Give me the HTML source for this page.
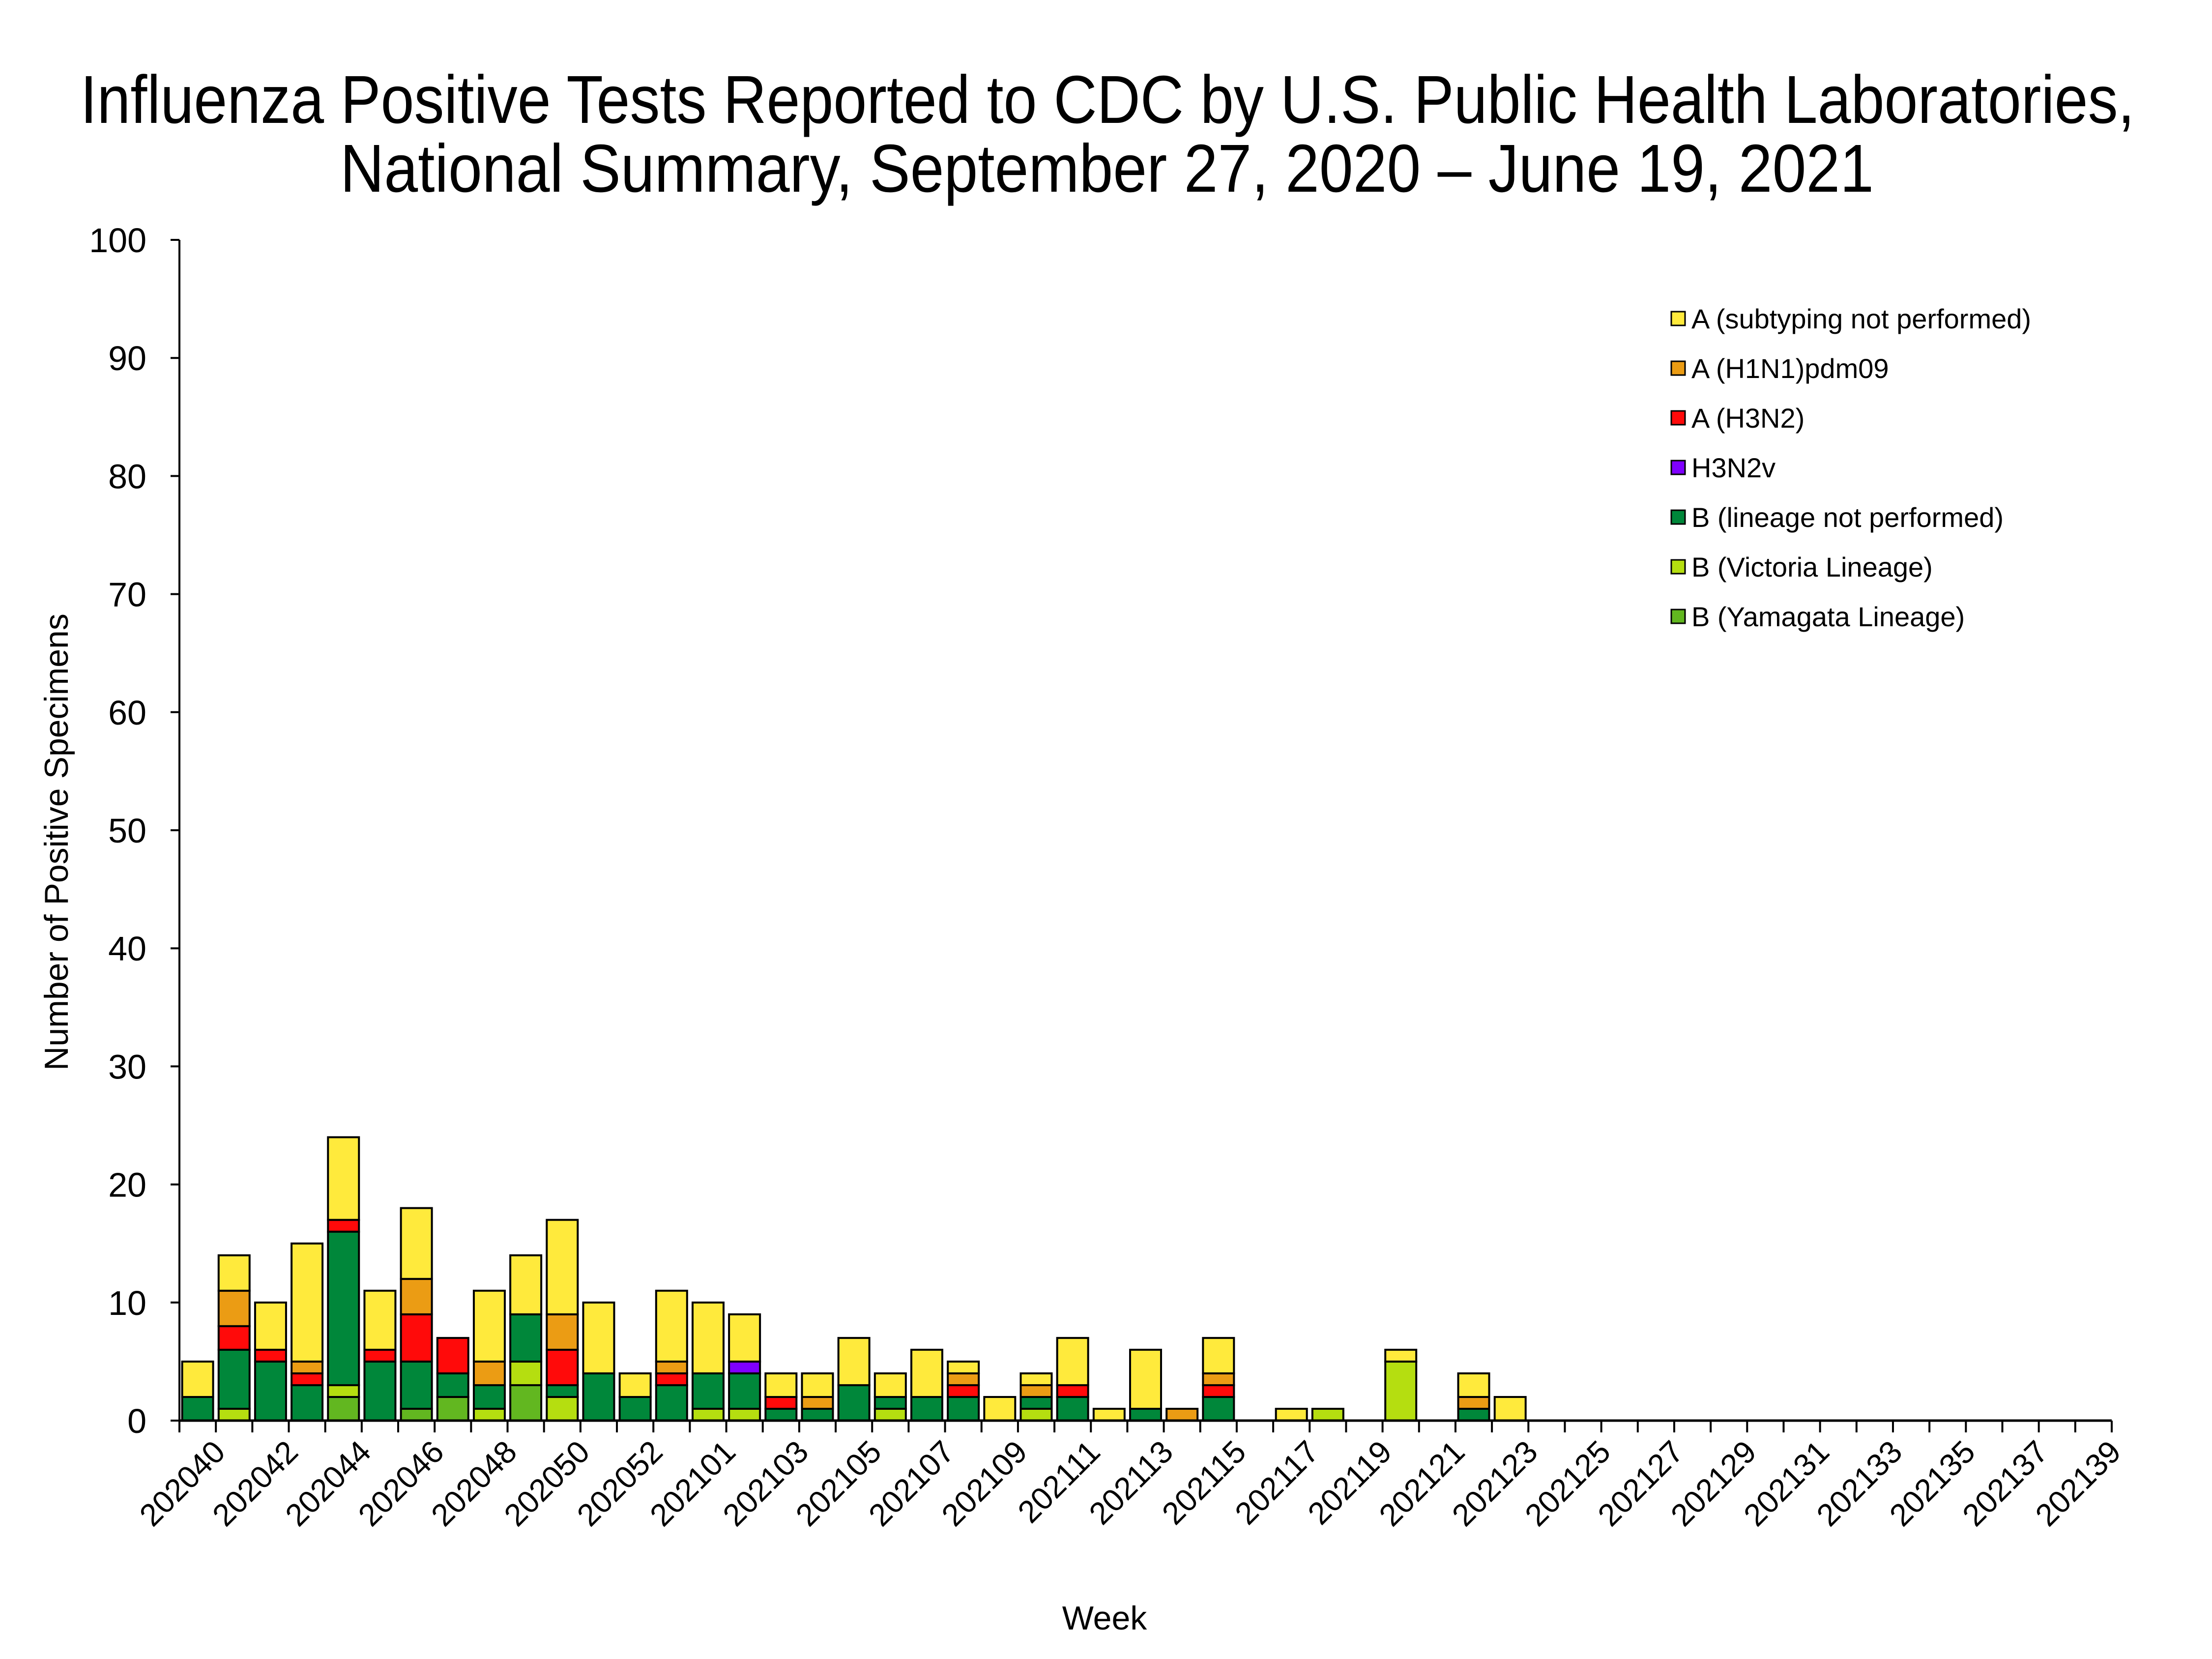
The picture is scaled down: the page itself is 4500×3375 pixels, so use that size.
<!DOCTYPE html>
<html><head><meta charset="utf-8"><style>
html,body{margin:0;padding:0;background:#fff}
svg{display:block}
text{font-family:"Liberation Sans",sans-serif;fill:#000}
</style></head><body>
<svg id="chart" width="4500" height="3375" viewBox="0 0 4500 3375" xmlns="http://www.w3.org/2000/svg">
<text x="2253" y="250" font-size="138" text-anchor="middle" textLength="4179" lengthAdjust="spacingAndGlyphs">Influenza Positive Tests Reported to CDC by U.S. Public Health Laboratories,</text>
<text x="2252" y="390" font-size="138" text-anchor="middle" textLength="3120" lengthAdjust="spacingAndGlyphs">National Summary, September 27, 2020 – June 19, 2021</text>
<text transform="translate(138,1713) rotate(-90)" font-size="68" text-anchor="middle">Number of Positive Specimens</text>
<text x="2247" y="3315" font-size="68" text-anchor="middle">Week</text>
<g id="bars"></g>
<g id="axes"></g>
<g id="legend"></g>
</svg>
<script>
const weeks = [];
for (let w = 40; w <= 53; w++) weeks.push('2020' + w);
for (let w = 1; w <= 39; w++) weeks.push('2021' + (w < 10 ? '0' + w : '' + w));
const seriesNames = ['B (Yamagata Lineage)','B (Victoria Lineage)','B (lineage not performed)','H3N2v','A (H3N2)','A (H1N1)pdm09','A (subtyping not performed)'];
const seriesColors = ['#62b720','#b5de10','#00873a','#7f00ff','#ff0a0a','#eb9c14','#ffea3c'];
const yamagata = [0,0,0,0,2,0,1,2,0,3,0,0,0,0,0,0,0,0,0,0,0,0,0,0,0,0,0,0,0,0,0,0,0,0,0,0,0];
const victoria = [0,1,0,0,1,0,0,0,1,2,2,0,0,0,1,1,0,0,0,1,0,0,0,1,0,0,0,0,0,0,0,1,0,5,0,0,0];
const bNotPerf = [2,5,5,3,13,5,4,2,2,4,1,4,2,3,3,3,1,1,3,1,2,2,0,1,2,0,1,0,2,0,0,0,0,0,0,1,0];
const h3n2v    = [0,0,0,0,0,0,0,0,0,0,0,0,0,0,0,1,0,0,0,0,0,0,0,0,0,0,0,0,0,0,0,0,0,0,0,0,0];
const h3n2     = [0,2,1,1,1,1,4,3,0,0,3,0,0,1,0,0,1,0,0,0,0,1,0,0,1,0,0,0,1,0,0,0,0,0,0,0,0];
const h1n1     = [0,3,0,1,0,0,3,0,2,0,3,0,0,1,0,0,0,1,0,0,0,1,0,1,0,0,0,1,1,0,0,0,0,0,0,1,0];
const aUnsub   = [3,3,4,10,7,5,6,0,6,5,8,6,2,6,6,4,2,2,4,2,4,1,2,1,4,1,5,0,3,0,1,0,0,1,0,2,2];
const yTicks = [0,10,20,30,40,50,60,70,80,90,100];
const series = [yamagata,victoria,bNotPerf,h3n2v,h3n2,h1n1,aUnsub];

const NS = 'http://www.w3.org/2000/svg';
const X0 = 365, X1 = 4296, Y0 = 2890, Y100 = 488;
const step = (X1 - X0) / weeks.length;
const xBand = i => X0 + i * step;
const yScale = v => Y0 - (v / 100) * (Y0 - Y100);
function mk(tag, attrs, parent) {
  const e = document.createElementNS(NS, tag);
  for (const k in attrs) e.setAttribute(k, attrs[k]);
  parent.appendChild(e);
  return e;
}
const barsG = document.getElementById('bars');
const barW = 63;
weeks.forEach((wk, i) => {
  let cum = 0;
  series.forEach((s, si) => {
    const v = s[i] || 0;
    if (v > 0) {
      const r = mk('rect', {x: xBand(i) + (step - barW) / 2, y: yScale(cum + v), width: barW, height: yScale(cum) - yScale(cum + v), fill: seriesColors[si], stroke: '#000', 'stroke-width': 4}, barsG);
      
      
    }
    cum += v;
  });
});
const axesG = document.getElementById('axes');
const yl = mk('line', {x1: X0, y1: Y100, x2: X0, y2: Y0, stroke: '#000', 'stroke-width': 4}, axesG);


const xl = mk('line', {x1: X0, y1: Y0, x2: X1, y2: Y0, stroke: '#000', 'stroke-width': 5}, axesG);


yTicks.forEach(t => {
  const tk = mk('line', {x1: X0 - 18, y1: yScale(t), x2: X0, y2: yScale(t), stroke: '#000', 'stroke-width': 4}, axesG);
  
  
  const tx = mk('text', {x: 298, y: yScale(t) + 25, 'font-size': 70, 'text-anchor': 'end'}, axesG);
  tx.textContent = t;
  
  
});
for (let i = 0; i <= weeks.length; i++) {
  const tk = mk('line', {x1: xBand(i), y1: Y0, x2: xBand(i), y2: Y0 + 24, stroke: '#000', 'stroke-width': 4}, axesG);
  
  
}
weeks.forEach((wk, i) => {
  if (i % 2 !== 0) return;
  const cx = xBand(i) + step / 2 + 28, cy = Y0 + 36;
  const tx = mk('text', {x: cx, y: cy, 'font-size': 64, 'text-anchor': 'end', transform: 'rotate(-45 ' + cx + ' ' + cy + ')', dy: '0.7em'}, axesG);
  tx.textContent = wk;
  
  
});
const legG = document.getElementById('legend');
for (let k = 0; k < 7; k++) {
  const si = 6 - k;
  const y = 649 + k * 101;
  const g = mk('g', {}, legG);
  
  
  mk('rect', {x: 3400, y: y - 15, width: 28, height: 28, fill: seriesColors[si], stroke: '#000', 'stroke-width': 3}, g);
  const tx = mk('text', {x: 3441, y: y + 19, 'font-size': 56}, g);
  tx.textContent = seriesNames[si];
}
</script>
</body></html>
